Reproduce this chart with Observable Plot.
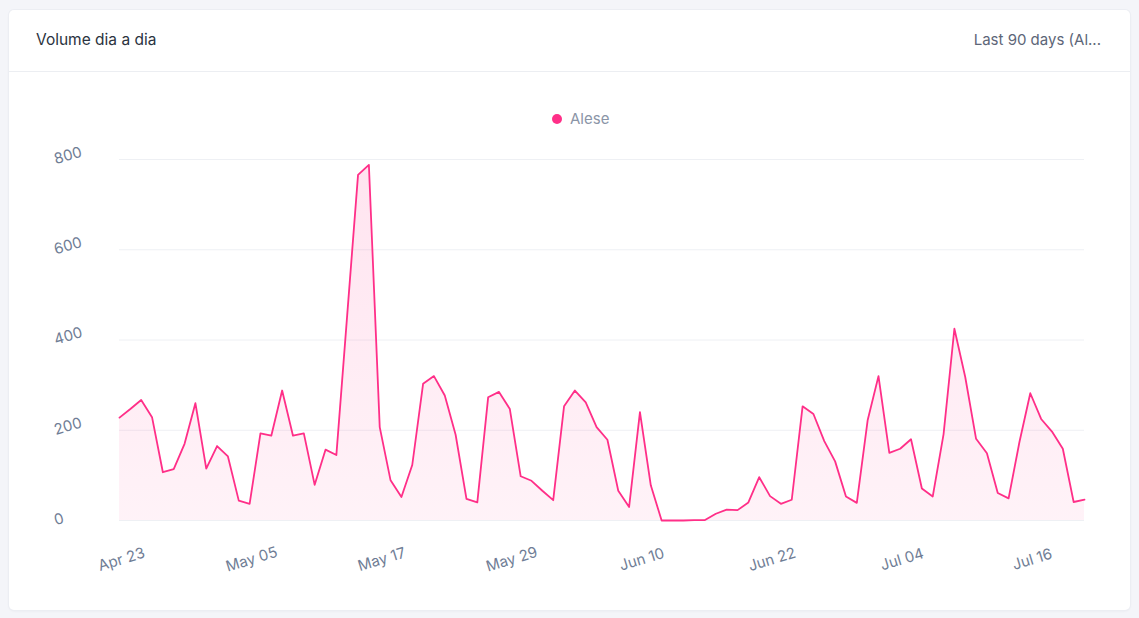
<!DOCTYPE html>
<html>
<head>
<meta charset="utf-8">
<script src="https://cdn.jsdelivr.net/npm/d3@7"></script>
<script src="https://cdn.jsdelivr.net/npm/@observablehq/plot@0.6"></script>
<style>
  html, body { margin: 0; padding: 0; background: #f4f5f9; width: 1139px; height: 618px; overflow: hidden; font-family: Inter, "Noto Sans", sans-serif; }
  .card { position: absolute; left: 9px; top: 10px; width: 1121px; height: 600px; background: #fff; border-radius: 5px; box-shadow: 0 0 0 1px #eceef3, 0 1px 3px rgba(30,40,70,0.06); }
  .hdr { position: absolute; left: 0; top: 0; width: 1121px; height: 61px; border-bottom: 1px solid #eceef2; }
  .title { position: absolute; left: 27px; top: 20px; font-size: 15.5px; color: #2b3340; }
  .range { position: absolute; right: 29px; top: 20px; font-size: 15px; color: #5d6678; }
  .legend { position: absolute; left: 552px; top: 109px; font-size: 15px; color: #8b95a7; display: flex; align-items: center; }
  .legend .dot { width: 10px; height: 10px; border-radius: 50%; background: #ff2f88; margin-right: 8px; }
  #chart { position: absolute; left: 0; top: 140px; }
</style>
</head>
<body>
<div class="card">
  <div class="hdr">
    <div class="title">Volume dia a dia</div>
    <div class="range">Last 90 days (Al...</div>
  </div>
</div>
<div class="legend"><span class="dot"></span><span id="legname"></span></div>
<div id="chart"></div>
<script>
const seriesName = "Alese";
const startDate = "2024-04-23";
const values = [228,247,267,229,107,114,170,260,115,165,142,44,37,193,188,288,188,193,79,157,
                145,455,766,788,207,89,52,123,303,320,277,190,48,40,273,285,247,98,88,66,
                45,253,288,262,207,179,66,30,240,78,0,0,0,1,1,15,24,23,40,96,
                54,37,46,253,236,176,131,53,39,222,320,150,159,180,71,53,191,425,318,181,
                149,61,49,174,282,225,197,159,41,46];
const yTicks = [0, 200, 400, 600, 800];
const xTickDates = ["2024-04-23","2024-05-05","2024-05-17","2024-05-29","2024-06-10","2024-06-22","2024-07-04","2024-07-16"];
const xTickLabels = ["Apr 23","May 05","May 17","May 29","Jun 10","Jun 22","Jul 04","Jul 16"];

document.getElementById("legname").textContent = seriesName;

const start = new Date(startDate + "T00:00:00Z");
const data = values.map((v, i) => ({date: d3.utcDay.offset(start, i), value: v}));
const xt = xTickDates.map((d, i) => ({date: new Date(d + "T00:00:00Z"), label: xTickLabels[i]}));

const lineColor = "#ff2f88";
const tickColor = "#6f7d95";

const plot = Plot.plot({
  width: 1139,
  height: 460,
  marginLeft: 119,
  marginRight: 55,
  marginTop: 19,
  marginBottom: 80,
  style: {fontFamily: "Inter, 'Noto Sans', sans-serif", background: "transparent", overflow: "visible"},
  x: {type: "utc", domain: [data[0].date, data[data.length - 1].date], axis: null},
  y: {domain: [0, 800], axis: null},
  marks: [
    Plot.ruleY(yTicks, {stroke: "#eef0f4", strokeWidth: 1}),
    Plot.areaY(data, {x: "date", y: "value", fill: "url(#areaGrad)", curve: "linear"}),
    Plot.lineY(data, {x: "date", y: "value", stroke: lineColor, strokeWidth: 1.8, curve: "linear"}),
    Plot.text(yTicks, {y: d => d, text: d => String(d), frameAnchor: "left", dx: -65, textAnchor: "start", lineAnchor: "middle", rotate: -16, fontSize: 15, fill: tickColor}),
    Plot.text(xt, {x: "date", text: "label", frameAnchor: "bottom", dx: 2, dy: 39, textAnchor: "middle", lineAnchor: "middle", rotate: -17, fontSize: 15, fill: tickColor})
  ]
});

const svg = d3.select(plot);
const defs = svg.insert("defs", ":first-child");
const g = defs.append("linearGradient").attr("id", "areaGrad").attr("x1", 0).attr("y1", 0).attr("x2", 0).attr("y2", 1);
g.append("stop").attr("offset", "0%").attr("stop-color", lineColor).attr("stop-opacity", 0.13);
g.append("stop").attr("offset", "100%").attr("stop-color", lineColor).attr("stop-opacity", 0.06);

document.getElementById("chart").appendChild(plot);
</script>
</body>
</html>
